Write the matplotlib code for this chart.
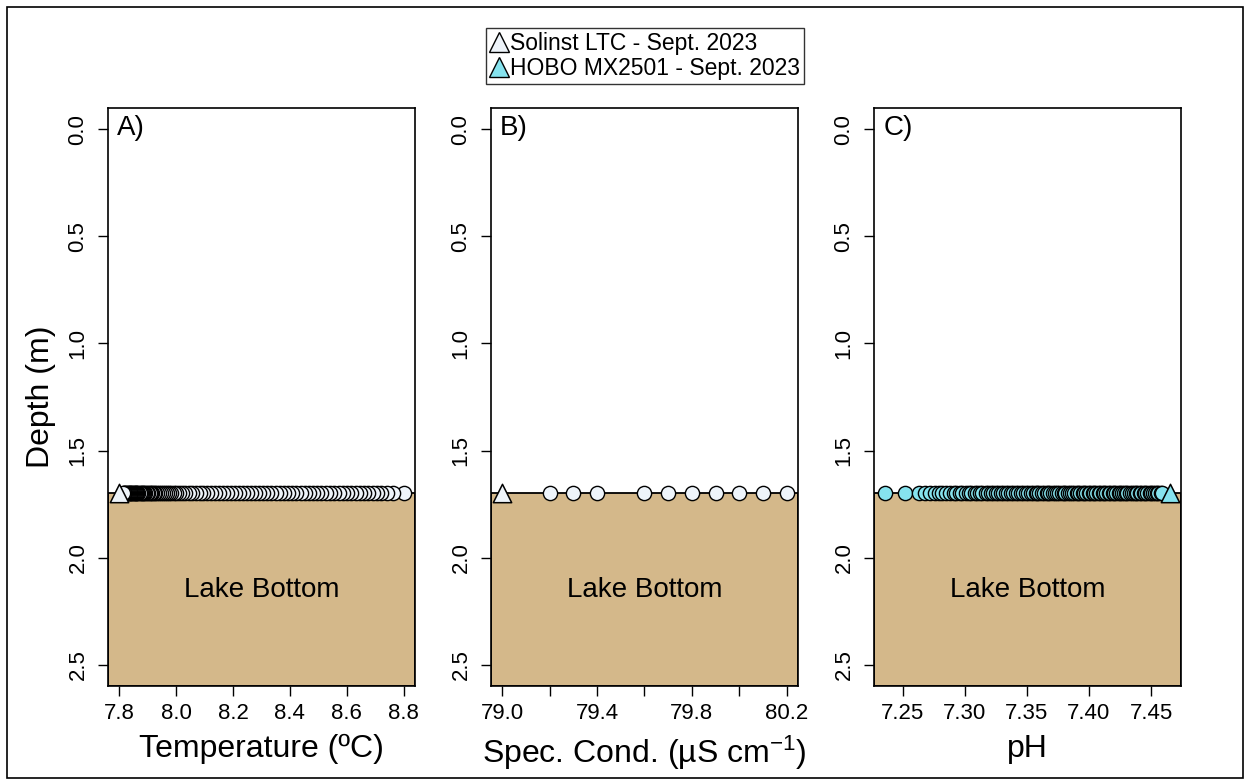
import matplotlib
matplotlib.use("Agg")
import matplotlib.pyplot as plt
from matplotlib.lines import Line2D
from matplotlib.patches import Rectangle

plt.rcParams['font.family'] = ['Liberation Sans', 'DejaVu Sans']
plt.rcParams['mathtext.fontset'] = 'custom'
plt.rcParams['mathtext.rm'] = 'Liberation Sans'
plt.rcParams['mathtext.it'] = 'Liberation Sans:italic'
plt.rcParams['mathtext.bf'] = 'Liberation Sans:bold'

# logger depth (m) and lake bottom
logger_depth = 1.7
bottom_depth = 2.6
depth_ticks = [0.0, 0.5, 1.0, 1.5, 2.0, 2.5]

# panel A - temperature (oC), circles in recorded order, single triangle
temp_circles = [8.800, 8.762, 8.740, 8.722, 8.706, 8.691, 8.676, 8.661, 8.646, 8.631,
                8.616, 8.601, 8.586, 8.571, 8.556, 8.541, 8.526, 8.511, 8.497, 8.482,
                8.467, 8.452, 8.438, 8.423, 8.408, 8.394, 8.379, 8.364, 8.350, 8.335,
                8.321, 8.306, 8.292, 8.277, 8.263, 8.249, 8.234, 8.220, 8.206, 8.192,
                8.178, 8.164, 8.150, 8.136, 8.122, 8.109, 8.095, 8.082, 8.069, 8.056,
                8.044, 8.032, 8.021, 8.010, 8.000, 7.991, 7.982, 7.974, 7.966, 7.959,
                7.952, 7.945, 7.939, 7.933, 7.927, 7.921, 7.916, 7.911, 7.906, 7.901,
                7.896, 7.891, 7.887, 7.883, 7.879, 7.875, 7.871, 7.867, 7.863, 7.860,
                7.857, 7.854, 7.851, 7.848, 7.845, 7.842, 7.839, 7.836, 7.833, 7.830,
                7.827, 7.824, 7.821, 7.818, 7.815, 7.812]
temp_triangle = [7.80]
temp_ticks = [7.8, 8.0, 8.2, 8.4, 8.6, 8.8]
temp_ticklabels = ["7.8", "8.0", "8.2", "8.4", "8.6", "8.8"]

# panel B - specific conductance (uS/cm)
cond_circles = [79.2, 79.3, 79.4, 79.6, 79.7, 79.8, 79.9, 80.0, 80.1, 80.2]
cond_triangle = [79.0]
cond_ticks = [79.0, 79.2, 79.4, 79.6, 79.8, 80.0, 80.2]
cond_ticklabels = ["79.0", "", "79.4", "", "79.8", "", "80.2"]

# panel C - pH
ph_circles = [7.236, 7.252, 7.263, 7.268, 7.272, 7.276, 7.279, 7.282, 7.285, 7.288,
              7.291, 7.293, 7.296, 7.298, 7.301, 7.303, 7.305, 7.308, 7.310, 7.312,
              7.314, 7.317, 7.319, 7.321, 7.323, 7.325, 7.327, 7.329, 7.331, 7.333,
              7.335, 7.337, 7.339, 7.341, 7.343, 7.345, 7.347, 7.349, 7.351, 7.353,
              7.355, 7.357, 7.358, 7.360, 7.362, 7.364, 7.366, 7.367, 7.369, 7.371,
              7.373, 7.374, 7.376, 7.378, 7.380, 7.381, 7.383, 7.385, 7.386, 7.388,
              7.390, 7.391, 7.393, 7.395, 7.396, 7.398, 7.400, 7.401, 7.403, 7.404,
              7.406, 7.408, 7.409, 7.411, 7.412, 7.414, 7.416, 7.417, 7.419, 7.420,
              7.422, 7.424, 7.425, 7.427, 7.428, 7.430, 7.431, 7.433, 7.435, 7.436,
              7.438, 7.439, 7.441, 7.442, 7.444, 7.445, 7.447, 7.449, 7.450, 7.452,
              7.453, 7.455, 7.456, 7.458, 7.459]
ph_triangle = [7.465]
ph_ticks = [7.25, 7.30, 7.35, 7.40, 7.45]
ph_ticklabels = ["7.25", "7.30", "7.35", "7.40", "7.45"]

solinst_col = "#EEF4FA"
hobo_col = "#86E3EE"
tan = "#D4B88A"

fig = plt.figure(figsize=(12.5, 7.8), dpi=100)
fig.patches.append(Rectangle((0.0056, 0.003), 0.9888, 0.988, transform=fig.transFigure,
                             fill=False, edgecolor="black", linewidth=1.2))

panels = [
    (108, temp_circles, temp_triangle, solinst_col, solinst_col, temp_ticks, temp_ticklabels,
     "Temperature (ºC)", "A)"),
    (491, cond_circles, cond_triangle, solinst_col, solinst_col, cond_ticks, cond_ticklabels,
     r"Spec. Cond. (µS cm$^{\mathregular{-1}}$)", "B)"),
    (874, ph_circles, ph_triangle, hobo_col, hobo_col, ph_ticks, ph_ticklabels,
     "pH", "C)"),
]

for left, circ, tri, ccol, tcol, ticks, ticklabels, xlab, tag in panels:
    ax = fig.add_axes([left / 1250, 94 / 780, 307 / 1250, 578 / 780])
    allv = circ + tri
    lo, hi = min(allv), max(allv)
    pad = 0.04 * (hi - lo)
    ax.set_xlim(lo - pad, hi + pad)
    ax.set_ylim(bottom_depth, -0.1)

    ax.axhspan(logger_depth, bottom_depth, facecolor=tan, edgecolor="black",
               linewidth=1.3, zorder=1)
    ax.text((lo + hi) / 2, 2.15, "Lake Bottom", ha="center", va="center", fontsize=20, zorder=2)
    ax.text(0.03, 0.965, tag, transform=ax.transAxes, ha="left", va="center", fontsize=20)

    ax.scatter(circ, [logger_depth] * len(circ), s=105, marker="o", facecolor=ccol,
               edgecolor="black", linewidth=1.0, zorder=3)
    ax.scatter(tri, [logger_depth] * len(tri), s=175, marker="^", facecolor=tcol,
               edgecolor="black", linewidth=1.1, zorder=4, clip_on=False)

    ax.set_xticks(ticks)
    ax.set_xticklabels(ticklabels, fontsize=16)
    ax.set_yticks(depth_ticks)
    ax.set_yticklabels(["%.1f" % d for d in depth_ticks], fontsize=16, rotation=90, va="center")
    ax.tick_params(axis="x", length=7, width=1, pad=5)
    ax.tick_params(axis="y", length=7, width=1, pad=7)
    for sp in ax.spines.values():
        sp.set_linewidth(1.2)

    ax.set_xlabel(xlab, fontsize=23)
    ax.xaxis.set_label_coords(0.5, -0.083)
    if tag == "A)":
        ax.set_ylabel("Depth (m)", fontsize=23)
    ax.yaxis.set_label_coords(-0.17, 0.5)

handles = [
    Line2D([], [], marker="^", linestyle="none", markersize=14, markerfacecolor=solinst_col,
           markeredgecolor="black", markeredgewidth=1.0),
    Line2D([], [], marker="^", linestyle="none", markersize=14, markerfacecolor=hobo_col,
           markeredgecolor="black", markeredgewidth=1.0),
]
leg = fig.legend(handles, ["Solinst LTC - Sept. 2023", "HOBO MX2501 - Sept. 2023"],
                 loc="center", bbox_to_anchor=(645 / 1250, 1 - 56 / 780), fontsize=16.5,
                 frameon=True, fancybox=False, edgecolor="black", handlelength=0.8,
                 handletextpad=0.1, borderpad=0.15, labelspacing=0.12, borderaxespad=0)
leg.get_frame().set_linewidth(1.0)

fig.savefig("out.png", dpi=100)
